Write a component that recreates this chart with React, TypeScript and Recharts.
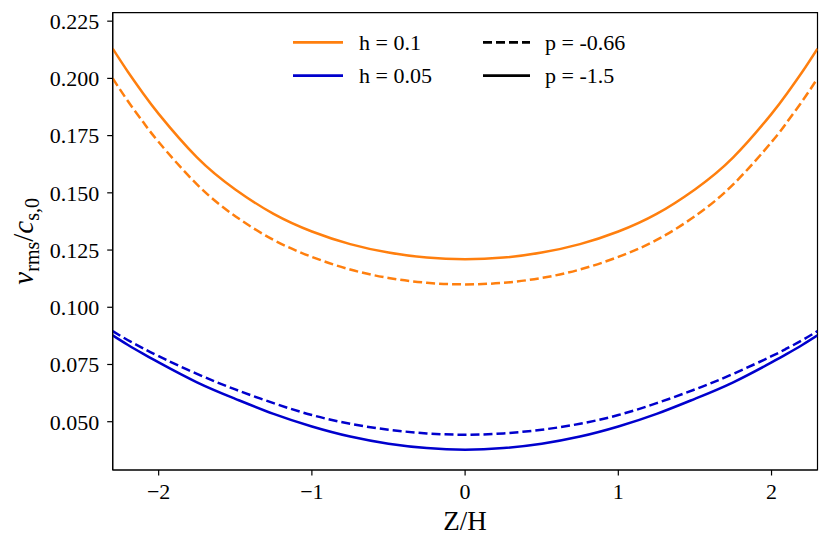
import React from "react";
import {
  LineChart,
  Line,
  XAxis,
  YAxis,
  ReferenceArea,
  Legend,
  Label,
} from "recharts";

const FONT = "Liberation Serif, Times New Roman, Times, serif";
const ORANGE = "#ff7f0e";
const BLUE = "#0000cd";

// Z/H positions
const zValues = [
  -2.3, -2.2, -2.1, -2.0, -1.75, -1.5, -1.25, -1.0, -0.75, -0.5, -0.25, 0,
  0.25, 0.5, 0.75, 1.0, 1.25, 1.5, 1.75, 2.0, 2.1, 2.2, 2.3,
];

// h = 0.1, p = -1.5 (solid orange)
const h01pM15 = [
  0.213, 0.2028, 0.1933, 0.1845, 0.1655, 0.1515, 0.1408, 0.1331, 0.1276,
  0.1239, 0.1217, 0.121, 0.1217, 0.1239, 0.1276, 0.1331, 0.1408, 0.1515,
  0.1655, 0.1845, 0.1933, 0.2028, 0.213,
];
// h = 0.1, p = -0.66 (dashed orange)
const h01pM066 = [
  0.2, 0.19, 0.1808, 0.1722, 0.1537, 0.1398, 0.1294, 0.122, 0.1165, 0.1128,
  0.1107, 0.11, 0.1107, 0.1128, 0.1165, 0.122, 0.1294, 0.1398, 0.1537, 0.1722,
  0.1808, 0.19, 0.2,
];
// h = 0.05, p = -0.66 (dashed blue)
const h005pM066 = [
  0.0896, 0.0856, 0.082, 0.0786, 0.0709, 0.0641, 0.0581, 0.0529, 0.0491,
  0.0465, 0.0449, 0.0443, 0.0449, 0.0465, 0.0491, 0.0529, 0.0581, 0.0641,
  0.0709, 0.0786, 0.082, 0.0856, 0.0896,
];
// h = 0.05, p = -1.5 (solid blue)
const h005pM15 = [
  0.0877, 0.0835, 0.0796, 0.0759, 0.0672, 0.06, 0.0534, 0.0479, 0.0435,
  0.0404, 0.0385, 0.0378, 0.0385, 0.0404, 0.0435, 0.0479, 0.0534, 0.06,
  0.0672, 0.0759, 0.0796, 0.0835, 0.0877,
];

const xTicks = [-2, -1, 0, 1, 2];
const yTicks = [0.05, 0.075, 0.1, 0.125, 0.15, 0.175, 0.2, 0.225];
const xDomain = [-2.3, 2.3];
const yDomain = [0.0289, 0.2287];

const colorLegend = [
  { label: "h = 0.1", color: ORANGE },
  { label: "h = 0.05", color: BLUE },
];
const styleLegend = [
  { label: "p = -0.66", dash: "9 4" },
  { label: "p = -1.5", dash: undefined as string | undefined },
];

const data = zValues.map((z, i) => ({
  z,
  oSolid: h01pM15[i],
  oDash: h01pM066[i],
  bDash: h005pM066[i],
  bSolid: h005pM15[i],
}));

const fmtX = (v: number) => (v < 0 ? "\u2212" + Math.abs(v) : String(v));
const fmtY = (v: number) => v.toFixed(3);

const LegendContent = () => (
  <svg width={831} height={100} style={{ display: "block" }}>
    {colorLegend.map((item, i) => (
      <g key={item.label}>
        <line
          x1={293}
          x2={343}
          y1={42.3 + i * 33.4}
          y2={42.3 + i * 33.4}
          stroke={item.color}
          strokeWidth={2.8}
        />
        <text
          x={359}
          y={50 + i * 33.4}
          style={{ fontFamily: FONT, fontSize: 22 }}
          fill="#000"
        >
          {item.label}
        </text>
      </g>
    ))}
    {styleLegend.map((item, i) => (
      <g key={item.label}>
        <line
          x1={483}
          x2={530}
          y1={42.3 + i * 33.4}
          y2={42.3 + i * 33.4}
          stroke="#000"
          strokeWidth={2.8}
          strokeDasharray={item.dash}
        />
        <text
          x={545}
          y={50 + i * 33.4}
          style={{ fontFamily: FONT, fontSize: 22 }}
          fill="#000"
        >
          {item.label}
        </text>
      </g>
    ))}
  </svg>
);

const YLabelContent = (props: any) => {
  const vb = props.viewBox || { x: 0, y: 0, width: 0, height: 0 };
  const cy = vb.y + vb.height / 2;
  return (
    <text
      transform={`translate(33, ${cy}) rotate(-90)`}
      textAnchor="middle"
      style={{ fontFamily: FONT, fontSize: 29 }}
      fill="#000"
    >
      <tspan fontStyle="italic">v</tspan>
      <tspan style={{ fontSize: 20 }} dy={6}>
        rms
      </tspan>
      <tspan dy={-6}>/</tspan>
      <tspan fontStyle="italic">c</tspan>
      <tspan style={{ fontSize: 20 }} dy={6}>
        s,0
      </tspan>
    </text>
  );
};

const XLabelContent = (props: any) => {
  const vb = props.viewBox || { x: 0, y: 0, width: 0, height: 0 };
  return (
    <text
      x={vb.x + vb.width / 2}
      y={530}
      textAnchor="middle"
      style={{ fontFamily: FONT, fontSize: 27 }}
      fill="#000"
    >
      Z/H
    </text>
  );
};

const tickStyle = { fill: "#000", fontFamily: FONT, fontSize: 22 };

export default function App() {
  return (
    <div
      style={{
        position: "absolute",
        left: 0,
        top: 0,
        background: "#fff",
        fontFamily: FONT,
      }}
    >
      <LineChart
        width={831}
        height={548}
        data={data}
        margin={{ top: 12.7, right: 13.5, bottom: 18, left: 0 }}
        style={{ fontFamily: FONT }}
      >
        <XAxis
          dataKey="z"
          type="number"
          domain={xDomain}
          ticks={xTicks}
          tickFormatter={fmtX}
          allowDataOverflow
          height={60}
          tickSize={5.5}
          tickMargin={8}
          stroke="#000"
          strokeWidth={1.2}
          tick={tickStyle}
          tickLine={{ stroke: "#000", strokeWidth: 1.2 }}
        >
          <Label content={XLabelContent} />
        </XAxis>
        <YAxis
          type="number"
          domain={yDomain}
          ticks={yTicks}
          tickFormatter={fmtY}
          allowDataOverflow
          width={112.7}
          tickSize={5.5}
          tickMargin={8}
          stroke="#000"
          strokeWidth={1.2}
          tick={tickStyle}
          tickLine={{ stroke: "#000", strokeWidth: 1.2 }}
        >
          <Label content={YLabelContent} />
        </YAxis>
        <ReferenceArea
          x1={xDomain[0]}
          x2={xDomain[1]}
          y1={yDomain[0]}
          y2={yDomain[1]}
          fill="none"
          stroke="#000"
          strokeWidth={1.2}
        />
        <Line
          dataKey="oSolid"
          type="natural"
          stroke={ORANGE}
          strokeWidth={2.5}
          dot={false}
          activeDot={false}
          isAnimationActive={false}
        />
        <Line
          dataKey="oDash"
          type="natural"
          stroke={ORANGE}
          strokeWidth={2.5}
          strokeDasharray="9 4"
          dot={false}
          activeDot={false}
          isAnimationActive={false}
        />
        <Line
          dataKey="bDash"
          type="natural"
          stroke={BLUE}
          strokeWidth={2.5}
          strokeDasharray="9 4"
          dot={false}
          activeDot={false}
          isAnimationActive={false}
        />
        <Line
          dataKey="bSolid"
          type="natural"
          stroke={BLUE}
          strokeWidth={2.5}
          dot={false}
          activeDot={false}
          isAnimationActive={false}
        />
        <Legend
          layout="horizontal"
          verticalAlign="middle"
          align="center"
          content={LegendContent}
          wrapperStyle={{
            position: "absolute",
            left: 0,
            top: 0,
            width: 831,
            height: 100,
            pointerEvents: "none",
          }}
        />
      </LineChart>
    </div>
  );
}
